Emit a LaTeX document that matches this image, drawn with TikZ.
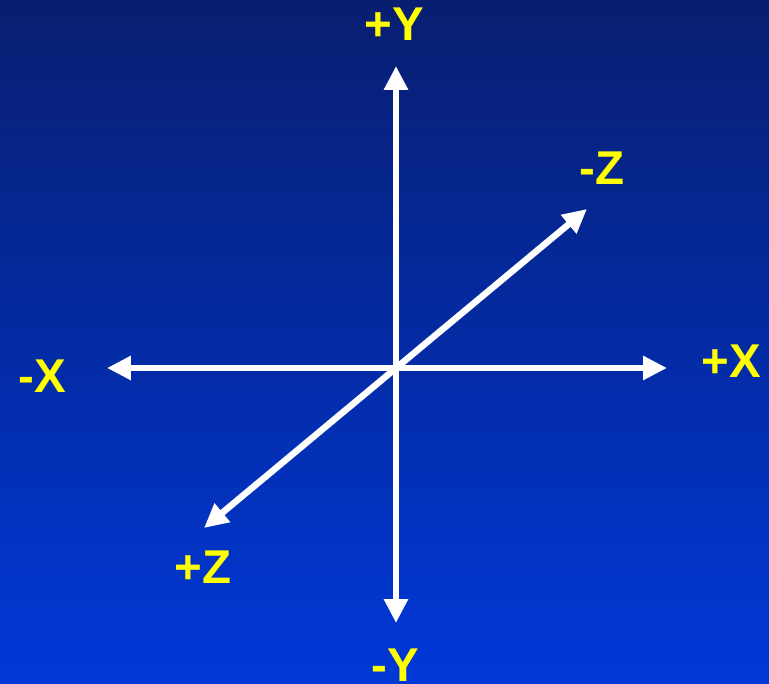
\documentclass[tikz,border=0pt]{standalone}
\usepackage{fontspec}
\setmainfont{Liberation Sans}
\usetikzlibrary{arrows.meta}
\definecolor{bgtop}{RGB}{8,30,112}
\definecolor{bgbot}{RGB}{0,56,216}
\definecolor{lblyellow}{RGB}{255,255,0}
\begin{document}
\begin{tikzpicture}[
    x=0.02cm, y=0.02cm,
    axis/.style={
        draw=white,
        line width=0.13cm,
        {Triangle[length=0.48cm,width=0.46cm]}-{Triangle[length=0.48cm,width=0.46cm]}
    },
    lbl/.style={
        text=lblyellow,
        font=\fontsize{27}{27}\selectfont\bfseries,
        inner sep=0pt,
        anchor=base
    }
]

    % background
    \shade[top color=bgtop, bottom color=bgbot] (0,0) rectangle (769,684);
    \useasboundingbox (0,0) rectangle (769,684);

    % axis ends
    \coordinate (ytop) at (396,618);
    \coordinate (ybot) at (396,61);
    \coordinate (xleft) at (107,316);
    \coordinate (xright) at (667,316);
    \coordinate (zback) at (587,475);
    \coordinate (zfront) at (204,156);

    % axes
    \draw[axis] (ybot) -- (ytop);
    \draw[axis] (xleft) -- (xright);
    \draw[axis] (zfront) -- (zback);

    % labels
    \node[lbl] (py) at (394,643) {+Y};
    \node[lbl] (ny) at (395,2) {-Y};
    \node[lbl] (nx) at (42,291) {-X};
    \node[lbl] (px) at (731,306) {+X};
    \node[lbl] (nz) at (602,499) {-Z};
    \node[lbl] (pz) at (203,100) {+Z};

\end{tikzpicture}
\end{document}
